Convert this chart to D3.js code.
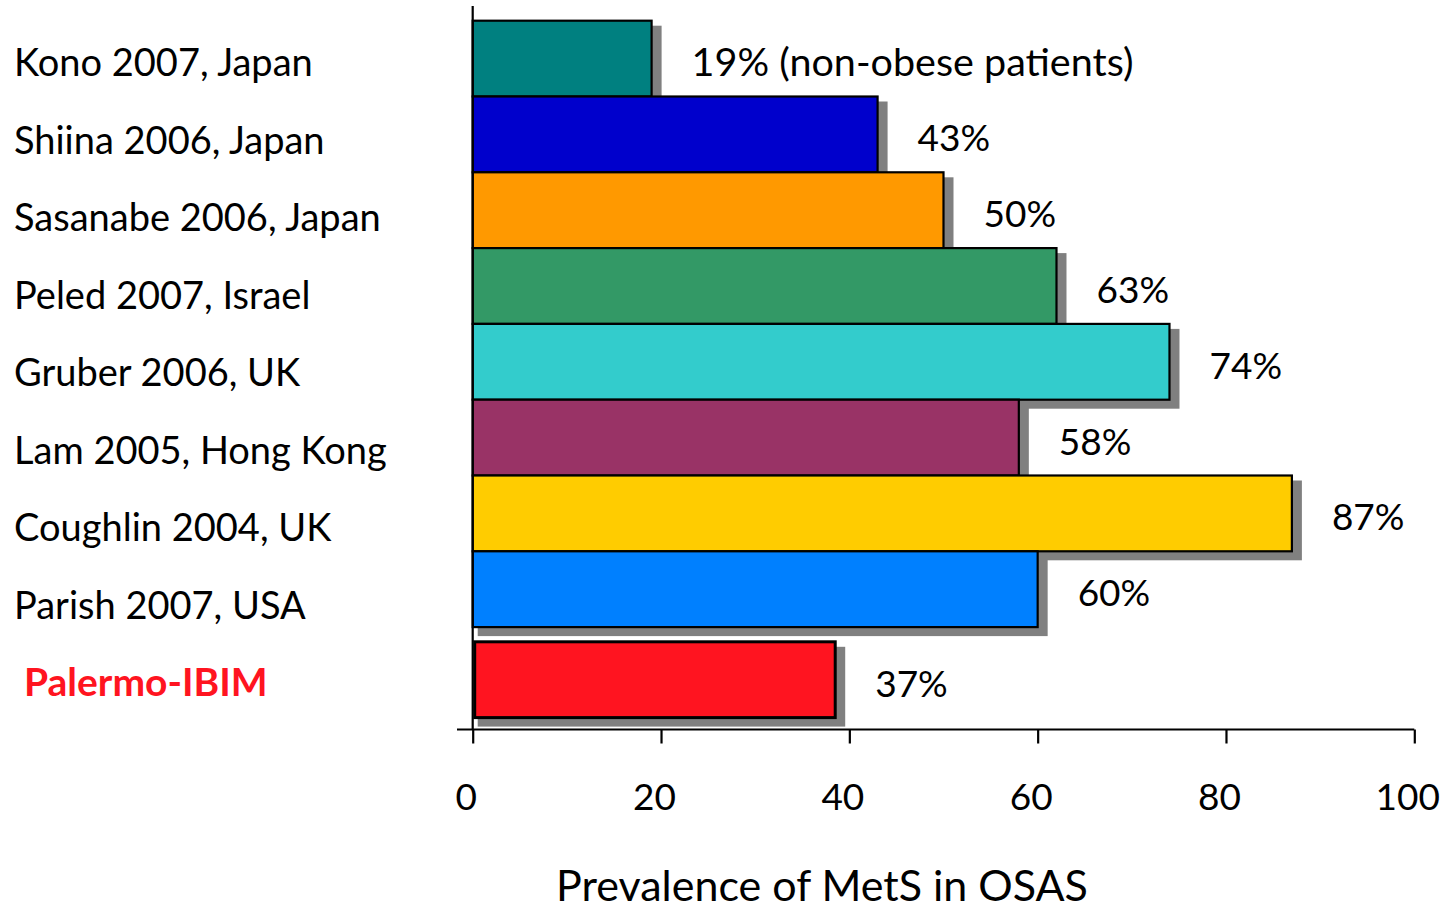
<!DOCTYPE html>
<html>
<head>
<meta charset="utf-8">
<script src="https://cdn.jsdelivr.net/npm/d3@7"></script>
<style>
  html, body { margin: 0; padding: 0; background: #fff; }
  svg { display: block; }
  text { font-family: Lato, "Open Sans", sans-serif; fill: #000; }
</style>
</head>
<body>
<svg id="chart" width="1441" height="910"></svg>
<script>
// ---- data ----
const categories = ["Kono 2007, Japan", "Shiina 2006, Japan", "Sasanabe 2006, Japan", "Peled 2007, Israel",
  "Gruber 2006, UK", "Lam 2005, Hong Kong", "Coughlin 2004, UK", "Parish 2007, USA", "Palermo-IBIM"];
const values = [19, 43, 50, 62, 74, 58, 87, 60, 38.5];
const valueLabels = ["19% (non-obese patients)", "43%", "50%", "63%", "74%", "58%", "87%", "60%", "37%"];
const barColors = ["#008080", "#0000CC", "#FF9900", "#339966", "#33CCCC", "#993366", "#FFCC00", "#0080FF", "#FF1420"];
const highlight = "Palermo-IBIM";
const xTicks = [0, 20, 40, 60, 80, 100];
const xTitle = "Prevalence of MetS in OSAS";

const data = categories.map((c, i) => ({ cat: c, value: values[i], label: valueLabels[i], color: barColors[i] }));

// ---- layout ----
const svg = d3.select("#chart");
const x = d3.scaleLinear().domain([0, 100]).range([472.7, 1414.3]);
const y = d3.scaleBand().domain(categories).range([20.7, 20.7 + 75.8 * categories.length]).padding(0);
const highlightGap = 14.7;
const yTop = d => y(d.cat) + (d.cat === highlight ? highlightGap : 0);
const labelY = d3.scalePoint().domain(categories).range([76, 696]);
const axisY = 729.5;

// shadows
svg.append("g").selectAll("rect").data(data).join("rect")
  .attr("x", d => x(0) + 5)
  .attr("y", d => yTop(d) + 5)
  .attr("width", d => x(d.value) - x(0) + 5)
  .attr("height", y.bandwidth() + 4)
  .attr("fill", "#808080");

// bars
svg.append("g").selectAll("rect").data(data).join("rect")
  .attr("x", d => x(0) + (d.cat === highlight ? 2 : 0))
  .attr("y", d => yTop(d))
  .attr("width", d => x(d.value) - x(0) - (d.cat === highlight ? 2 : 0))
  .attr("height", y.bandwidth())
  .attr("fill", d => d.color)
  .attr("stroke", "#000")
  .attr("stroke-width", d => d.cat === highlight ? 3 : 2.2);

// value labels
svg.append("g").selectAll("text").data(data).join("text")
  .attr("x", d => x(d.value) + 40)
  .attr("y", d => yTop(d) + y.bandwidth() / 2 + 17)
  .attr("font-size", d => d.label.length > 5 ? 39.5 : 37)
  .text(d => d.label);

// category labels
svg.append("g").selectAll("text").data(data).join("text")
  .attr("x", d => d.cat === highlight ? 24 : 14)
  .attr("y", d => labelY(d.cat))
  .attr("font-size", d => d.cat === highlight ? 39 : 38)
  .attr("font-weight", d => d.cat === highlight ? 700 : 400)
  .style("fill", d => d.cat === highlight ? "#FF1420" : "#000")
  .text(d => d.cat);

// vertical axis line
svg.append("line")
  .attr("x1", x(0)).attr("x2", x(0))
  .attr("y1", 6).attr("y2", axisY)
  .attr("stroke", "#000").attr("stroke-width", 2.2);

// x axis
const xAxis = d3.axisBottom(x).tickValues(xTicks).tickSize(14).tickSizeOuter(0).tickPadding(40);
const gx = svg.append("g").attr("transform", `translate(0,${axisY})`).call(xAxis);
gx.select(".domain").remove();
gx.append("line").attr("x1", 457).attr("x2", x(100)).attr("y1", 0).attr("y2", 0)
  .attr("stroke", "#000").attr("stroke-width", 2.2);
gx.selectAll(".tick line").attr("stroke", "#000").attr("stroke-width", 2.2);
gx.selectAll(".tick text").attr("font-size", 37).attr("dx", -7)
  .attr("font-family", "Lato, 'Open Sans', sans-serif").attr("fill", "#000");

// axis title
svg.append("text")
  .attr("x", 822)
  .attr("y", 901)
  .attr("text-anchor", "middle")
  .attr("font-size", 43)
  .text(xTitle);
</script>
</body>
</html>
